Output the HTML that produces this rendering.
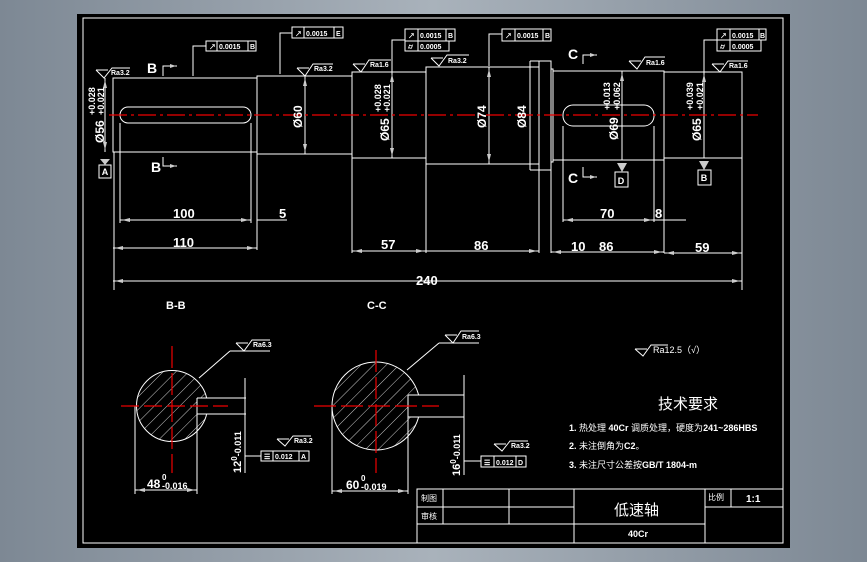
<!DOCTYPE html>
<html><head><meta charset="utf-8"><style>
html,body{margin:0;padding:0;width:867px;height:562px;overflow:hidden;background:#9aa4ae;}
svg{display:block}
text{font-family:"Liberation Sans","Noto Sans CJK SC",sans-serif;fill:#fff;}
</style></head><body>
<svg width="867" height="562" viewBox="0 0 867 562" xmlns="http://www.w3.org/2000/svg">
<defs>
<linearGradient id="bg" x1="0" y1="0" x2="1" y2="0">
<stop offset="0" stop-color="#7d8894"/><stop offset="0.5" stop-color="#a9b2bb"/><stop offset="1" stop-color="#7d8894"/>
</linearGradient>
<pattern id="hatch" width="9" height="9" patternUnits="userSpaceOnUse" patternTransform="rotate(45)">
<line x1="0" y1="0" x2="0" y2="9" stroke="#fff" stroke-width="0.8"/>
</pattern>
</defs>
<rect width="867" height="562" fill="url(#bg)"/>
<rect x="77" y="14" width="713" height="534" fill="#000"/>
<g fill="none" stroke="#fff" stroke-width="1">
<rect x="83" y="18" width="700" height="525"/>
<rect x="113" y="78" width="144" height="74"/>
<rect x="257" y="76" width="95" height="78"/>
<rect x="352" y="72" width="74" height="86"/>
<rect x="426" y="67" width="113" height="97"/>
<rect x="539" y="61" width="12" height="109"/>
<line x1="530" y1="61" x2="539" y2="61"/><line x1="530" y1="170" x2="539" y2="170"/>
<rect x="551" y="69" width="2" height="93"/>
<rect x="553" y="71" width="111" height="89"/>
<rect x="664" y="72" width="78" height="86"/>
<rect x="120" y="107" width="131" height="16" rx="8"/>
<rect x="563" y="105" width="91" height="21" rx="10"/>
<line x1="114" y1="152" x2="114" y2="290"/>
<line x1="120" y1="123" x2="120" y2="223"/>
<line x1="251" y1="123" x2="251" y2="223"/>
<line x1="257" y1="154" x2="257" y2="250"/>
<line x1="352" y1="158" x2="352" y2="253"/>
<line x1="426" y1="164" x2="426" y2="253"/>
<line x1="539" y1="170" x2="539" y2="253"/>
<line x1="551" y1="170" x2="551" y2="253"/>
<line x1="563" y1="126" x2="563" y2="222"/>
<line x1="654" y1="126" x2="654" y2="222"/>
<line x1="664" y1="160" x2="664" y2="253"/>
<line x1="742" y1="158" x2="742" y2="290"/>
<line x1="120" y1="220" x2="251" y2="220"/>
<line x1="257" y1="220" x2="287" y2="220"/>
<line x1="113" y1="248" x2="257" y2="248"/>
<line x1="352" y1="251" x2="426" y2="251"/>
<line x1="426" y1="251" x2="539" y2="251"/>
<line x1="551" y1="252" x2="664" y2="252"/>
<line x1="664" y1="253" x2="742" y2="253"/>
<line x1="563" y1="220" x2="654" y2="220"/>
<line x1="654" y1="220" x2="686" y2="220"/>
<line x1="113" y1="281" x2="742" y2="281"/>
<line x1="105" y1="78" x2="105" y2="152"/>
<line x1="305" y1="76" x2="305" y2="154"/>
<line x1="392" y1="72" x2="392" y2="158"/>
<line x1="489" y1="67" x2="489" y2="164"/>
<line x1="530" y1="61" x2="530" y2="170"/>
<line x1="622" y1="71" x2="622" y2="160"/>
<line x1="704" y1="72" x2="704" y2="158"/>
<rect x="99" y="165" width="12" height="13"/>
<rect x="615" y="172" width="13" height="15"/>
<rect x="698" y="170" width="13" height="15"/>
<path d="M163 76 V66 H177"/><path d="M163 157 V166 H177"/>
<path d="M583 64 V55 H597"/><path d="M583 167 V177 H597"/>
<path d="M193 76 V46 H206"/><rect x="206" y="41" width="50" height="10"/><line x1="217" y1="41" x2="217" y2="51"/><line x1="248" y1="41" x2="248" y2="51"/>
<path d="M280 74 V33 H292"/><rect x="292" y="27" width="51" height="11"/><line x1="304" y1="27" x2="304" y2="38"/><line x1="334" y1="27" x2="334" y2="38"/>
<path d="M392 72 V40 H405"/><rect x="405" y="29" width="50" height="12"/><rect x="405" y="41" width="44" height="10"/><line x1="418" y1="29" x2="418" y2="51"/><line x1="446" y1="29" x2="446" y2="41"/>
<path d="M489 66 V34 H502"/><rect x="502" y="29" width="49" height="12"/><line x1="515" y1="29" x2="515" y2="41"/><line x1="543" y1="29" x2="543" y2="41"/>
<path d="M704 72 V40 H717"/><rect x="717" y="29" width="49" height="11"/><rect x="717" y="40" width="44" height="11"/><line x1="730" y1="29" x2="730" y2="51"/><line x1="759" y1="29" x2="759" y2="40"/>
<path d="M96 70 L104 78 L112 68 H130 M96 70 H108"/>
<path d="M297 68 L305 76 L313 64 H333 M297 68 H309"/>
<path d="M353 64 L361 72 L369 60 H391 M353 64 H365"/>
<path d="M431 58 L439 66 L447 55 H469 M431 58 H443"/>
<path d="M629 61 L637 69 L645 57 H665 M629 61 H641"/>
<path d="M712 64 L720 72 L728 61 H748 M712 64 H724"/>
<path d="M236 343 L244 351 L252 340 H270 M236 343 H248"/>
<path d="M445 335 L453 343 L461 331 H479 M445 335 H457"/>
<path d="M277 439 L285 446 L293 436 H311 M277 439 H289"/>
<path d="M494 444 L502 451 L510 441 H528 M494 444 H506"/>
<path d="M635 349 L643 356 L651 345 H668 M635 349 H647"/>
<circle cx="172" cy="406" r="35.5" fill="url(#hatch)"/>
<rect x="197" y="398" width="49" height="16" fill="#000" stroke="none"/>
<path d="M197 398 H246 M197 414 H246 M197 398 V414"/>
<line x1="135" y1="406" x2="135" y2="494"/><line x1="197" y1="414" x2="197" y2="494"/>
<line x1="135" y1="490" x2="197" y2="490"/>
<line x1="245" y1="378" x2="245" y2="473"/>
<line x1="230" y1="351" x2="199" y2="378"/><line x1="230" y1="351" x2="270" y2="351"/>
<path d="M245 456 H261"/><rect x="261" y="451" width="48" height="10"/><line x1="273" y1="451" x2="273" y2="461"/><line x1="299" y1="451" x2="299" y2="461"/>
<circle cx="376" cy="406" r="44" fill="url(#hatch)"/>
<rect x="408" y="395" width="56" height="22" fill="#000" stroke="none"/>
<path d="M408 395 H464 M408 417 H464 M408 395 V417"/>
<line x1="332" y1="406" x2="332" y2="494"/><line x1="408" y1="417" x2="408" y2="494"/>
<line x1="332" y1="491" x2="408" y2="491"/>
<line x1="464" y1="375" x2="464" y2="475"/>
<line x1="439" y1="343" x2="407" y2="370"/><line x1="439" y1="343" x2="479" y2="343"/>
<path d="M464 461 H481"/><rect x="481" y="456" width="45" height="11"/><line x1="494" y1="456" x2="494" y2="467"/><line x1="516" y1="456" x2="516" y2="467"/>
<rect x="417" y="489" width="366" height="54"/>
<line x1="417" y1="507" x2="574" y2="507"/><line x1="417" y1="524" x2="705" y2="524"/>
<line x1="705" y1="507" x2="783" y2="507"/>
<line x1="443" y1="489" x2="443" y2="524"/><line x1="509" y1="489" x2="509" y2="524"/>
<line x1="574" y1="489" x2="574" y2="543"/><line x1="705" y1="489" x2="705" y2="543"/>
<line x1="731" y1="489" x2="731" y2="507"/>
</g>
<g fill="#ccc">
<path d="M105 80 l-2 8 h4z"/><path d="M105 150 l-2 -8 h4z"/>
<path d="M305 78 l-2 8 h4z"/><path d="M305 152 l-2 -8 h4z"/>
<path d="M392 74 l-2 8 h4z"/><path d="M392 156 l-2 -8 h4z"/>
<path d="M489 69 l-2 8 h4z"/><path d="M489 162 l-2 -8 h4z"/>
<path d="M622 73 l-2 8 h4z"/><path d="M704 74 l-2 8 h4z"/>
<path d="M122 220 l8 -2 v4z"/><path d="M249 220 l-8 -2 v4z"/>
<path d="M115 248 l8 -2 v4z"/><path d="M255 248 l-8 -2 v4z"/>
<path d="M115 281 l8 -2 v4z"/><path d="M740 281 l-8 -2 v4z"/>
<path d="M354 251 l8 -2 v4z"/><path d="M424 251 l-8 -2 v4z"/>
<path d="M537 251 l-8 -2 v4z"/><path d="M553 252 l8 -2 v4z"/><path d="M662 252 l-8 -2 v4z"/>
<path d="M666 253 l8 -2 v4z"/><path d="M740 253 l-8 -2 v4z"/>
<path d="M565 220 l8 -2 v4z"/><path d="M652 220 l-8 -2 v4z"/>
<path d="M176 66 l-6 -2 v4z"/><path d="M176 166 l-6 -2 v4z"/>
<path d="M596 55 l-6 -2 v4z"/><path d="M596 177 l-6 -2 v4z"/>
<path d="M100 159 l5 6 l5 -6z"/><path d="M617 163 l5 9 l5 -9z"/><path d="M699 161 l5 9 l5 -9z"/>
<path d="M137 490 l8 -2 v4z"/><path d="M195 490 l-8 -2 v4z"/>
<path d="M334 491 l8 -2 v4z"/><path d="M406 491 l-8 -2 v4z"/>
</g>
<g stroke="#e00" stroke-width="1.2" fill="none">
<line x1="109" y1="115" x2="758" y2="115" stroke-dasharray="18 4 3 4"/>
<line x1="121" y1="406" x2="228" y2="406" stroke-dasharray="18 5"/>
<line x1="172" y1="346" x2="172" y2="473" stroke-dasharray="22 5"/>
<line x1="314" y1="406" x2="439" y2="406" stroke-dasharray="22 5"/>
<line x1="376" y1="350" x2="376" y2="473" stroke-dasharray="22 5"/>
</g>
<g font-size="13" font-weight="bold">
<text x="173" y="218">100</text>
<text x="279" y="218">5</text>
<text x="173" y="247">110</text>
<text x="381" y="249">57</text>
<text x="474" y="250">86</text>
<text x="571" y="251">10</text>
<text x="599" y="251">86</text>
<text x="695" y="252">59</text>
<text x="600" y="218">70</text>
<text x="655" y="218">8</text>
<text x="416" y="285">240</text>
<text x="147" y="73" font-size="14">B</text>
<text x="151" y="172" font-size="14">B</text>
<text x="568" y="59" font-size="14">C</text>
<text x="568" y="183" font-size="14">C</text>
</g>
<g font-size="9" font-weight="bold" text-anchor="middle">
<text x="105" y="175">A</text><text x="621" y="184">D</text><text x="704" y="181">B</text>
</g>
<g font-size="12" font-weight="bold">
<text transform="translate(104,143) rotate(-90)">Ø56</text>
<text transform="translate(95,115) rotate(-90)" font-size="9">+0.028</text>
<text transform="translate(104,115) rotate(-90)" font-size="9">+0.021</text>
<text transform="translate(302,128) rotate(-90)">Ø60</text>
<text transform="translate(389,141) rotate(-90)">Ø65</text>
<text transform="translate(381,112) rotate(-90)" font-size="9">+0.028</text>
<text transform="translate(390,112) rotate(-90)" font-size="9">+0.021</text>
<text transform="translate(486,128) rotate(-90)">Ø74</text>
<text transform="translate(526,128) rotate(-90)">Ø84</text>
<text transform="translate(618,140) rotate(-90)">Ø69</text>
<text transform="translate(610,110) rotate(-90)" font-size="9">+0.013</text>
<text transform="translate(620,110) rotate(-90)" font-size="9">+0.062</text>
<text transform="translate(701,141) rotate(-90)">Ø65</text>
<text transform="translate(693,110) rotate(-90)" font-size="9">+0.039</text>
<text transform="translate(703,110) rotate(-90)" font-size="9">+0.021</text>
</g>
<g font-size="7" font-weight="bold">
<text x="111" y="75">Ra3.2</text><text x="314" y="71">Ra3.2</text><text x="370" y="67">Ra1.6</text>
<text x="448" y="63">Ra3.2</text><text x="646" y="65">Ra1.6</text><text x="729" y="68">Ra1.6</text>
<text x="253" y="347">Ra6.3</text><text x="462" y="339">Ra6.3</text>
<text x="294" y="443">Ra3.2</text><text x="511" y="448">Ra3.2</text>
<text x="219" y="49">0.0015</text><text x="250" y="49">B</text><text x="209" y="49">↗</text>
<text x="306" y="36">0.0015</text><text x="336" y="36">E</text><text x="295" y="36">↗</text>
<text x="420" y="38">0.0015</text><text x="448" y="38">B</text><text x="408" y="38">↗</text><text x="420" y="49">0.0005</text><text x="408" y="49">⌭</text>
<text x="517" y="38">0.0015</text><text x="545" y="38">B</text><text x="505" y="38">↗</text>
<text x="732" y="38">0.0015</text><text x="760" y="38">B</text><text x="720" y="38">↗</text><text x="732" y="49">0.0005</text><text x="720" y="49">⌭</text>
<text x="264" y="459">☰</text><text x="275" y="459">0.012</text><text x="301" y="459">A</text>
<text x="484" y="465">☰</text><text x="496" y="465">0.012</text><text x="518" y="465">D</text>
</g>
<g font-size="11" font-weight="bold">
<text x="166" y="309">B-B</text><text x="367" y="309">C-C</text>
<text x="147" y="488" font-size="12">48</text><text x="162" y="480" font-size="8">0</text><text x="162" y="489" font-size="9">-0.016</text>
<text x="346" y="489" font-size="12">60</text><text x="361" y="481" font-size="8">0</text><text x="361" y="490" font-size="9">-0.019</text>
<text transform="translate(241,473) rotate(-90)" font-size="11">12<tspan font-size="8" dy="-4">0</tspan><tspan font-size="9" dy="4">-0.011</tspan></text>
<text transform="translate(460,476) rotate(-90)" font-size="11">16<tspan font-size="8" dy="-4">0</tspan><tspan font-size="9" dy="4">-0.011</tspan></text>
</g>
<g font-size="9">
<text x="653" y="353">Ra12.5（√）</text>
<text x="658" y="409" font-size="15" fill="#ddd">技术要求</text>
<text x="569" y="431"><tspan font-weight="bold">1.</tspan> 热处理 <tspan font-weight="bold">40Cr</tspan> 调质处理，硬度为<tspan font-weight="bold">241~286HBS</tspan></text>
<text x="569" y="449"><tspan font-weight="bold">2.</tspan> 未注倒角为<tspan font-weight="bold">C2</tspan>。</text>
<text x="569" y="468"><tspan font-weight="bold">3.</tspan> 未注尺寸公差按<tspan font-weight="bold">GB/T 1804-m</tspan></text>
<text x="421" y="501" font-size="8">制图</text><text x="421" y="519" font-size="8">审核</text>
<text x="708" y="500" font-size="8">比例</text>
<text x="746" y="502" font-weight="bold" font-size="10">1:1</text>
<text x="614" y="515" font-size="15" fill="#ddd">低速轴</text>
<text x="628" y="537" font-weight="bold">40Cr</text>
</g>
</svg>
</body></html>
